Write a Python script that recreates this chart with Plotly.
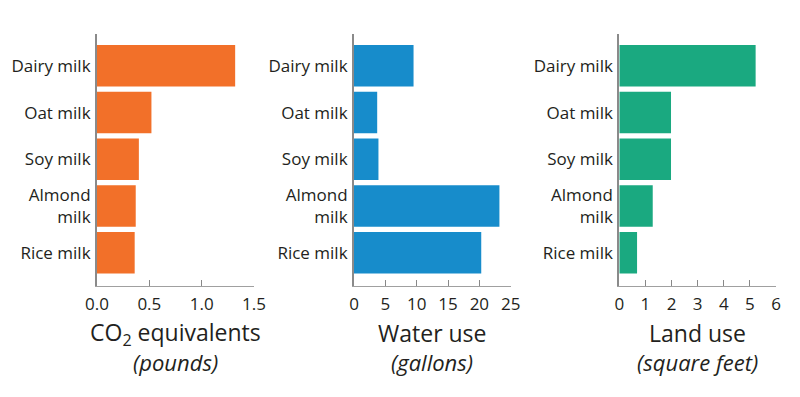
import plotly.graph_objects as go

categories = ["Dairy milk", "Oat milk", "Soy milk", "Almond<br>milk", "Rice milk"]
co2_values = [1.32, 0.52, 0.40, 0.37, 0.36]
water_values = [9.5, 3.7, 3.9, 23.2, 20.3]
land_values = [5.22, 1.98, 1.98, 1.28, 0.68]

co2_ticks = [0.0, 0.5, 1.0, 1.5]
water_ticks = [0, 5, 10, 15, 20, 25]
land_ticks = [0, 1, 2, 3, 4, 5, 6]

titles = ["CO<sub>2</sub> equivalents", "Water use", "Land use"]
subtitles = ["(pounds)", "(gallons)", "(square feet)"]
colors = ["#F27029", "#178CCB", "#1AA980"]

# page body has an 8px margin: draw the figure 16px smaller and offset coords
OFF = 8
W, H = 800 - 2 * OFF, 397 - 2 * OFF


def px_x(x):
    return (x - OFF) / W


def px_y(y):
    return (H - (y - OFF)) / H


domains = [[px_x(97), px_x(254)], [px_x(354), px_x(510.7)], [px_x(619.3), px_x(776)]]
ydom = [px_y(286), px_y(34)]

series = [co2_values, water_values, land_values]
ticks = [co2_ticks, water_ticks, land_ticks]
ranges = [[0, 1.5], [0, 25], [0, 6]]
tickfmt = [".1f", "d", "d"]

font = "Open Sans"
fig = go.Figure()
layout = dict(
    width=W, height=H, margin=dict(l=0, r=0, t=0, b=0),
    paper_bgcolor="white", plot_bgcolor="white", showlegend=False,
    font=dict(family=font, size=17, color="#231f20"),
    template="none", bargap=0.11,
)
annotations = []
for i in range(3):
    sfx = "" if i == 0 else str(i + 1)
    fig.add_trace(go.Bar(
        x=series[i], y=categories, orientation="h",
        marker=dict(color=colors[i], line=dict(width=0)),
        xaxis="x" + sfx, yaxis="y" + sfx, hoverinfo="skip",
    ))
    layout["xaxis" + sfx] = dict(
        domain=domains[i], anchor="y" + sfx, range=ranges[i],
        tickvals=ticks[i], tickformat=tickfmt[i],
        showline=True, linecolor="#a0a0a0", linewidth=1,
        ticks="inside", ticklen=6, tickcolor="#888", tickwidth=1,
        showgrid=False, zeroline=False, automargin=False,
        tickfont=dict(family=font, size=17, color="#231f20"),
        ticklabelstandoff=3,
    )
    layout["yaxis" + sfx] = dict(
        domain=ydom, anchor="x" + sfx, type="category",
        categoryorder="array", categoryarray=categories,
        range=[4.71, -0.68],
        showline=True, linecolor="#8a8a8a", linewidth=2,
        ticks="", showgrid=False, zeroline=False, automargin=False,
        tickfont=dict(family=font, size=17, color="#231f20"),
        ticklabelstandoff=1,
    )
    cx = (domains[i][0] + domains[i][1]) / 2
    annotations.append(dict(
        text=titles[i], x=cx, y=px_y(333), xref="paper", yref="paper",
        xanchor="center", yanchor="middle", showarrow=False,
        font=dict(family=font, size=23, color="#231f20"),
    ))
    annotations.append(dict(
        text="<i>" + subtitles[i] + "</i>", x=cx, y=px_y(362),
        xref="paper", yref="paper", xanchor="center", yanchor="middle",
        showarrow=False, font=dict(family=font, size=22, color="#231f20"),
    ))
layout["annotations"] = annotations
fig.update_layout(**layout)
fig.write_html("out.html")
